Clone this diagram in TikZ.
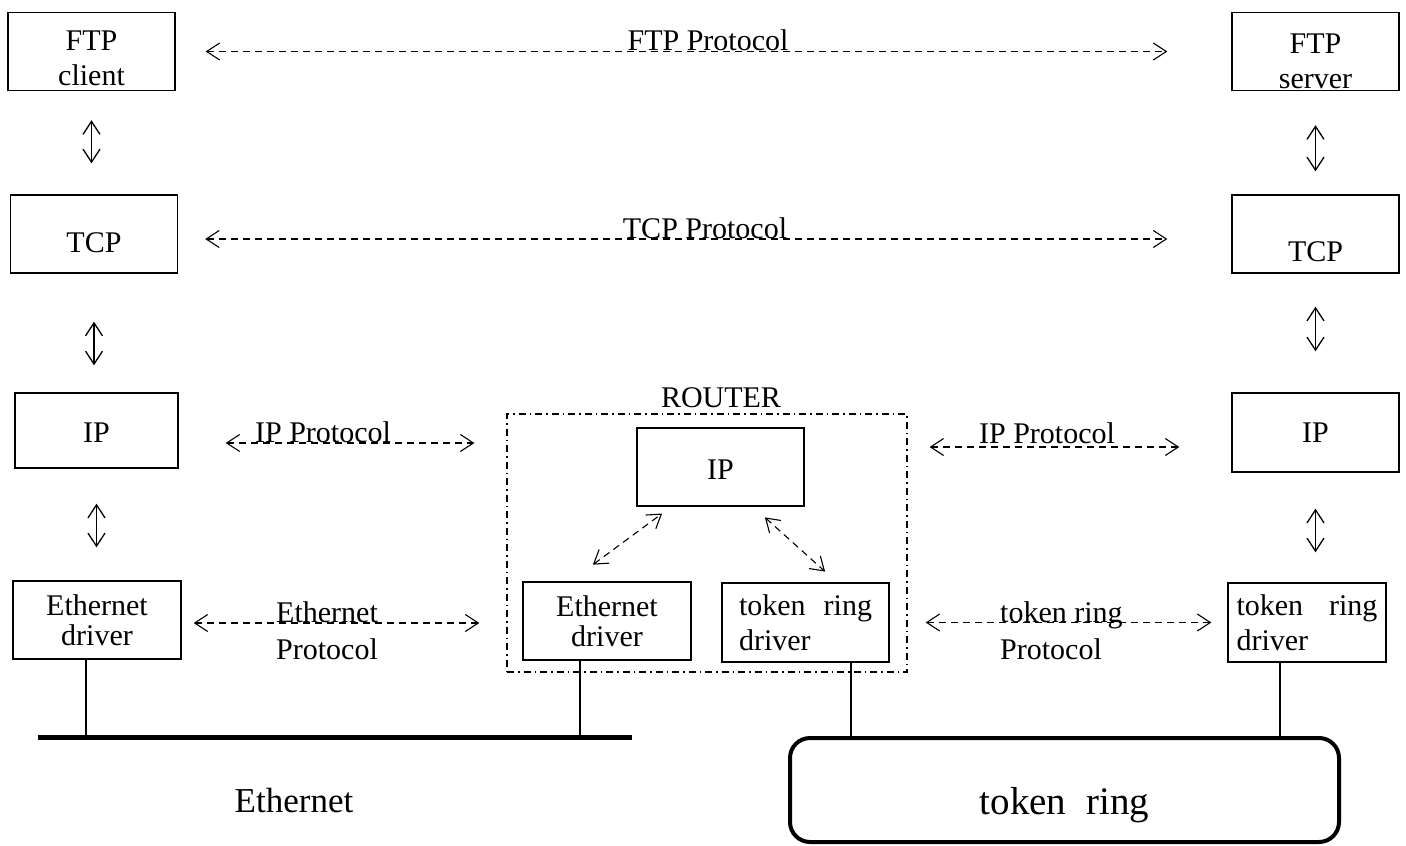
\documentclass[tikz,border=0pt]{standalone}
\usepackage{fontspec}
\setmainfont{Liberation Serif}
\usepackage{tikz}
\usetikzlibrary{positioning, arrows.meta}

\tikzset{
  barb/.tip={Straight Barb[length=13pt, width=17pt]},
  layer/.style={rectangle, draw=black, line width=1.4pt, minimum width=167pt, minimum height=78pt, inner sep=2pt, align=center},
  proto/.style={line width=1.1pt, dash pattern=on 7pt off 5pt, barb-barb},
  updown/.style={line width=1.3pt, barb-barb},
  drop/.style={line width=1.2pt}
}

\begin{document}
\begin{tikzpicture}[x=1pt, y=-1pt, font=\fontsize{30}{35}\selectfont]
\useasboundingbox (0,0) rectangle (1406,846);

%%% nodes and boxes

%%% HOST LEFT
\node [layer] (ftp-client) at (91.5,51.5) {\rule{0pt}{34pt}FTP\\client};
\node [layer, text height=38pt] (tcp-left) at (94,234) {TCP};
\node [layer, minimum width=163pt, minimum height=75pt, text height=23pt] (ip-left) at (96.5,430.5) {IP};
\node [layer, minimum width=168pt] (eth-left) at (97,620) {Ethernet\\[-5pt]driver};

%%% HOST RIGHT
\node [layer, inner sep=0pt] (ftp-server) at (1315.5,51.5) {\rule{0pt}{40pt}FTP\\server};
\node [layer, text height=56pt] (tcp-right) at (1315.5,234) {TCP};
\node [layer, minimum height=79pt] (ip-right) at (1315.5,432.5) {IP};
\node [layer, minimum width=158pt, minimum height=79pt, align=left] (tr-right) at (1307,622.5) {token\hspace{26pt}ring\\driver};

%%% ROUTER
\node [rectangle, draw=black, line width=1.2pt, dash pattern=on 7pt off 4pt on 1.5pt off 4pt, minimum width=400pt, minimum height=258pt] (router) at (707,543) {};
\node [anchor=base] (router-label) at (721,407) {ROUTER};
\node [layer, text height=24pt] (ip-router) at (720.5,467) {IP};
\node [layer, minimum width=168pt] (eth-router) at (607,621) {Ethernet\\[-5pt]driver};
\node [layer, minimum height=79pt, align=left] (tr-router) at (805.5,622.5) {token\hspace{18pt}ring\\driver};

%%% NETWORKS
\coordinate (bus-west) at (38,737);
\coordinate (bus-east) at (632,737);
\node [anchor=base, font=\fontsize{35}{40}\selectfont] (eth-net) at (294,812) {Ethernet};
\node [rectangle, draw=black, line width=4pt, rounded corners=20pt, minimum width=549pt, minimum height=104pt, font=\fontsize{39}{45}\selectfont, text height=48pt, text depth=0pt] (ring) at (1064.5,790) {token\hspace{20pt}ring};

%%% protocol labels
\node [anchor=base] (ftp-proto) at (708,50) {FTP Protocol};
\node [anchor=base] (tcp-proto) at (705,238) {TCP Protocol};
\node [anchor=base] (ip-proto-left) at (323,442) {IP Protocol};
\node [anchor=base] (ip-proto-right) at (1047,443) {IP Protocol};
\node [anchor=north west, inner sep=0pt, align=left] (eth-proto) at (276,601) {Ethernet\\[2pt]Protocol};
\node [anchor=north west, inner sep=0pt, align=left] (tr-proto) at (1000,601) {token ring\\[2pt]Protocol};

%%% connections, arrows

% up and down the stacks
\draw [updown, shorten <=29pt, shorten >=31pt] (ftp-client.south) -- (ftp-client.south |- tcp-left.north);
\draw [updown, shorten <=48pt, shorten >=27pt] (tcp-left.south) -- (tcp-left.south |- ip-left.north);
\draw [updown, shorten <=35pt, shorten >=33pt] (ip-left.south) -- (ip-left.south |- eth-left.north);
\draw [updown, shorten <=34pt, shorten >=23pt] (ftp-server.south) -- (ftp-server.south |- tcp-right.north);
\draw [updown, shorten <=33pt, shorten >=41pt] (tcp-right.south) -- (tcp-right.south |- ip-right.north);
\draw [updown, shorten <=36pt, shorten >=30pt] (ip-right.south) -- (ip-right.south |- tr-right.north);

% peer protocols
\draw [proto, shorten <=30pt, shorten >=64pt] (ftp-client.east) -- (ftp-server.west);
\draw [proto, shorten <=27pt, shorten >=64pt] ([yshift=-5pt]tcp-left.east) -- ([yshift=-5pt]tcp-right.west);
\draw [proto, shorten <=47pt, shorten >=32pt] ([yshift=-12.5pt]ip-left.east) -- ([yshift=-12.5pt]ip-left.east -| router.west);
\draw [proto, shorten <=22pt, shorten >=52pt] ([yshift=-14.5pt]ip-right.west -| router.east) -- ([yshift=-14.5pt]ip-right.west);
\draw [proto, shorten <=12pt, shorten >=43pt] ([yshift=-3pt]eth-left.east) -- ([yshift=-2pt]eth-router.west);
\draw [proto, shorten <=36pt, shorten >=16pt] (tr-router.east) -- (tr-right.west);

% inside the router
\draw [proto, shorten <=28pt, shorten >=11.5pt] ([xshift=-36.6pt]eth-router.north) -- ([xshift=-49.2pt]ip-router.south);
\draw [proto, shorten <=16pt, shorten >=16pt] ([xshift=32.5pt]ip-router.south) -- ([xshift=31.5pt]tr-router.north);

% wires
\draw [line width=5pt] (bus-west) -- (bus-east);
\draw [drop] ([xshift=-11pt]eth-left.south) -- ([xshift=-11pt]eth-left.south |- bus-west);
\draw [drop] ([xshift=-27pt]eth-router.south) -- ([xshift=-27pt]eth-router.south |- bus-west);
\draw [drop] ([xshift=45.5pt]tr-router.south) -- ([xshift=45.5pt]tr-router.south |- ring.north);
\draw [drop] ([xshift=-27pt]tr-right.south) -- ([xshift=-27pt]tr-right.south |- ring.north);

\end{tikzpicture}
\end{document}
